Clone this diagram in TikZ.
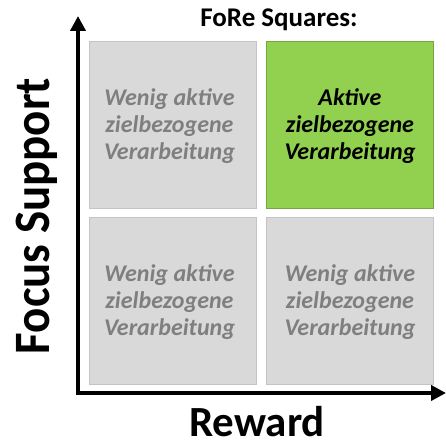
\documentclass[tikz,border=0pt]{standalone}
\usepackage{fontspec}
\setmainfont{Carlito}
\newfontfamily\narrowfont[FakeStretch=0.92]{Carlito}
\usetikzlibrary{arrows.meta}
\definecolor{boxgray}{HTML}{D9D9D9}
\definecolor{boxgrayline}{HTML}{C4C4C4}
\definecolor{boxgreen}{HTML}{92D050}
\definecolor{boxgreenline}{HTML}{74A83E}
\definecolor{textgray}{HTML}{7F7F7F}
\begin{document}
\begin{tikzpicture}[x=1pt,y=1pt,
  square/.style={draw=boxgrayline, fill=boxgray, line width=0.8pt,
    minimum width=167pt, minimum height=167pt, inner sep=0pt},
  greensquare/.style={square, draw=boxgreenline, fill=boxgreen},
  celltext/.style={font=\fontsize{24}{27}\selectfont\bfseries\itshape,
    align=center, text=textgray, inner sep=0pt},
  axis/.style={line width=4.5pt, -{Triangle[length=15pt,width=15pt]}},
  axislabel/.style={font=\fontsize{43}{48}\selectfont\bfseries, inner sep=0pt}]
\useasboundingbox (0,0) rectangle (446,443);

% four quadrants
\node[square]      (tl) at (172.5,318.5) {};
\node[greensquare] (tr) at (350,318.5) {};
\node[square]      (bl) at (172.5,142.5) {};
\node[square]      (br) at (350,142.5) {};

% quadrant texts
\node[celltext] (tlt) at ([xshift=-3pt,yshift=-2pt]tl.center) {Wenig aktive\\zielbezogene\\Verarbeitung};
\node[celltext, text=black] (trt) at ([yshift=-2pt]tr.center) {Aktive\\zielbezogene\\Verarbeitung};
\node[celltext] (blt) at ([xshift=-3pt,yshift=-2pt]bl.center) {Wenig aktive\\zielbezogene\\Verarbeitung};
\node[celltext] (brt) at ([yshift=-2pt]br.center) {Wenig aktive\\zielbezogene\\Verarbeitung};

% axes
\coordinate (origin) at (78,50);
\coordinate (ytip) at (78,427);
\coordinate (xtip) at (446,50);
\draw[axis] (origin) -- (ytip);
\draw[axis] ([xshift=-2.25pt]origin) -- (xtip);

% labels
\node[font=\fontsize{27}{30}\selectfont\bfseries, anchor=base, inner sep=0pt] (title) at (279,416) {FoRe Squares:};
\node[axislabel, anchor=base] (reward) at (257,6) {Reward};
\node[font=\fontsize{51}{55}\selectfont\narrowfont\bfseries, anchor=base, inner sep=0pt, rotate=90] (focus) at (49,227) {Focus Support};
\end{tikzpicture}
\end{document}
